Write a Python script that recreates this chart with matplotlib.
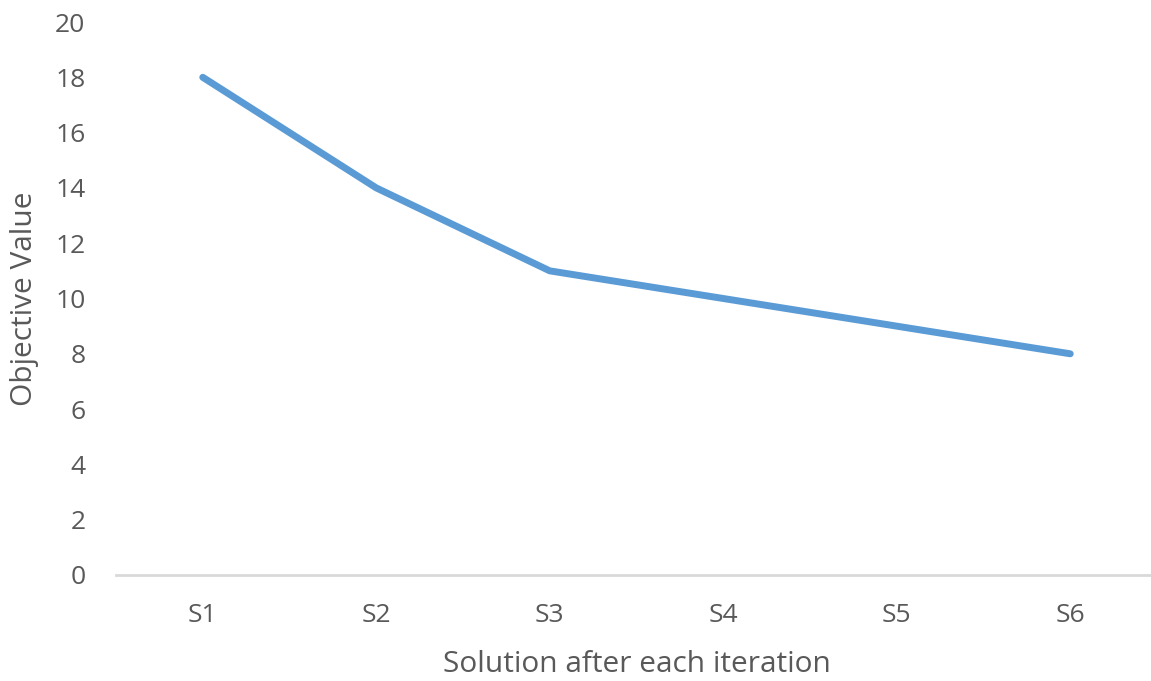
import matplotlib.pyplot as plt

# chart data
solutions = ["S1", "S2", "S3", "S4", "S5", "S6"]
objective = [18, 14, 11, 10, 9, 8]
y_ticks = list(range(0, 21, 2))

plt.rcParams['font.family'] = ['Open Sans', 'DejaVu Sans']
text_color = "#595959"

fig = plt.figure(figsize=(11.51, 6.81), dpi=100)
ax = fig.add_axes([116 / 1151, 106 / 681, 1041 / 1151, 553 / 681])

x = list(range(len(solutions)))
ax.plot(x, objective, color="#5B9BD5", linewidth=5, solid_capstyle="round",
        solid_joinstyle="round", clip_on=False)

ax.set_xlim(-0.5, len(solutions) - 0.5)
ax.set_ylim(0, 20)
ax.set_xticks(x)
ax.set_xticklabels(solutions)
ax.set_yticks(y_ticks)

for side in ["top", "right", "left"]:
    ax.spines[side].set_visible(False)
ax.spines["bottom"].set_color("#D9D9D9")
ax.spines["bottom"].set_linewidth(2)

ax.tick_params(axis="both", length=0, labelsize=19, colors=text_color)
ax.tick_params(axis="x", pad=20)
ax.tick_params(axis="y", pad=22)

ax.set_xlabel("Solution after each iteration", fontsize=21.5, color=text_color, labelpad=16)
ax.set_ylabel("Objective Value", fontsize=21.5, color=text_color, labelpad=12)

fig.savefig("out.png", dpi=100)
